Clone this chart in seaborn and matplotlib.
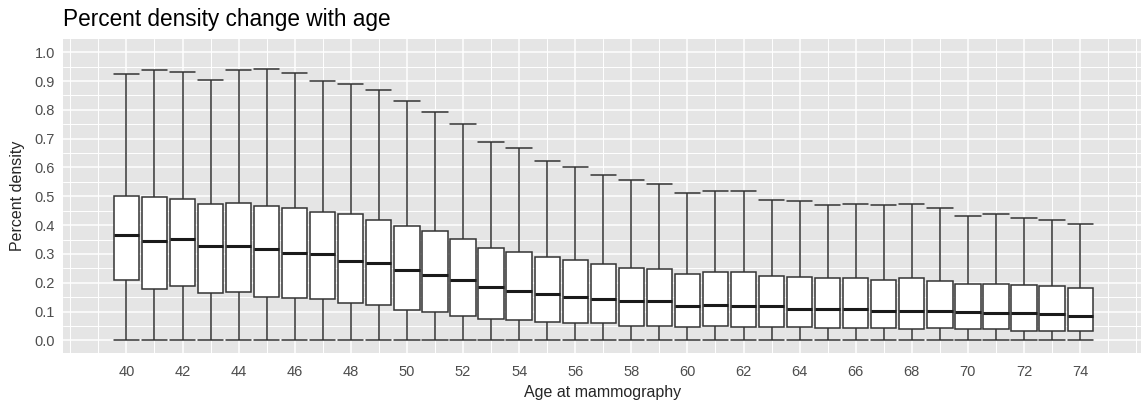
import numpy as np
import pandas as pd
import matplotlib.pyplot as plt
import seaborn as sns
from matplotlib.ticker import MultipleLocator, FormatStrFormatter

# box summaries (percent density by age)
ages = [40, 41, 42, 43, 44, 45, 46, 47, 48, 49, 50, 51, 52, 53, 54, 55, 56, 57,
        58, 59, 60, 61, 62, 63, 64, 65, 66, 67, 68, 69, 70, 71, 72, 73, 74]
whisker_low = [0.0, 0.0, 0.0, 0.0, 0.0, 0.0, 0.0, 0.0, 0.0, 0.0, 0.0, 0.0,
               0.0, 0.0, 0.0, 0.0, 0.0, 0.0, 0.0, 0.0, 0.0, 0.0, 0.0, 0.0,
               0.0, 0.0, 0.0, 0.0, 0.0, 0.0, 0.0, 0.0, 0.0, 0.0, 0.0]
q1 = [0.211, 0.179, 0.188, 0.165, 0.169, 0.152, 0.147, 0.142, 0.129, 0.121,
      0.105, 0.100, 0.083, 0.074, 0.069, 0.064, 0.060, 0.060, 0.051, 0.051,
      0.047, 0.051, 0.047, 0.047, 0.047, 0.042, 0.042, 0.042, 0.038, 0.042,
      0.038, 0.038, 0.033, 0.033, 0.033]
median = [0.366, 0.345, 0.353, 0.326, 0.326, 0.317, 0.304, 0.299, 0.277, 0.267,
          0.245, 0.226, 0.209, 0.186, 0.172, 0.162, 0.150, 0.144, 0.135, 0.135,
          0.119, 0.122, 0.119, 0.119, 0.108, 0.108, 0.108, 0.103, 0.103, 0.103,
          0.099, 0.094, 0.094, 0.090, 0.086]
q3 = [0.500, 0.496, 0.491, 0.473, 0.478, 0.468, 0.460, 0.446, 0.437, 0.418,
      0.396, 0.379, 0.351, 0.319, 0.305, 0.291, 0.278, 0.264, 0.251, 0.246,
      0.232, 0.237, 0.237, 0.224, 0.219, 0.215, 0.215, 0.210, 0.215, 0.205,
      0.196, 0.196, 0.192, 0.187, 0.182]
whisker_high = [0.924, 0.938, 0.932, 0.905, 0.938, 0.942, 0.928, 0.900, 0.891,
                0.869, 0.832, 0.792, 0.751, 0.688, 0.668, 0.624, 0.602, 0.574,
                0.556, 0.542, 0.511, 0.520, 0.520, 0.488, 0.483, 0.469, 0.475,
                0.469, 0.475, 0.460, 0.433, 0.438, 0.424, 0.419, 0.405]

# five points per age reproduce exactly these quartiles / whisker ends
rows = []
for i, a in enumerate(ages):
    for v in (whisker_low[i], q1[i], median[i], q3[i], whisker_high[i]):
        rows.append({"age": a, "pd": v})
df = pd.DataFrame(rows)

sns.set_theme(style="darkgrid")
plt.rcParams["font.family"] = ["Liberation Sans", "DejaVu Sans"]

W, H = 1144, 405
fig = plt.figure(figsize=(W / 100, H / 100), dpi=100)
left, right, top, bottom = 63.3, 1141, 39.3, 353.3
ax = fig.add_axes([left / W, 1 - bottom / H, (right - left) / W, (bottom - top) / H])

edge = "#333333"
sns.boxplot(data=df, x="age", y="pd", native_scale=True, width=0.9,
            whis=(0, 100), color="white", saturation=1, linecolor=edge,
            linewidth=1.1, showfliers=False, capwidths=0.9,
            medianprops={"linewidth": 2.2, "color": "#1a1a1a"},
            ax=ax)

ax.set_facecolor("#E5E5E5")
ax.set_xlim(37.75, 76.17)
ax.set_ylim(-0.045, 1.045)
ax.xaxis.set_major_locator(MultipleLocator(2))
ax.xaxis.set_minor_locator(MultipleLocator(1))
ax.yaxis.set_major_locator(MultipleLocator(0.1))
ax.yaxis.set_minor_locator(MultipleLocator(0.05))
ax.yaxis.set_major_formatter(FormatStrFormatter("%.1f"))
ax.set_xticks(range(40, 75, 2))
ax.grid(which="major", color="white", linewidth=1.1)
ax.grid(which="minor", color="white", linewidth=0.7)
ax.set_axisbelow(True)
for s in ax.spines.values():
    s.set_visible(False)

ax.tick_params(which="major", length=3.6, width=1, color=edge,
               labelsize=10.5, labelcolor="#4D4D4D")
ax.tick_params(axis="y", pad=2.5)
ax.tick_params(axis="x", pad=4.5)
ax.tick_params(which="minor", length=0)
ax.set_xlabel("")
ax.set_ylabel("")

fig.text(left / W, 1 - 26 / H, "Percent density change with age",
         fontsize=16.3, color="black", ha="left", va="baseline")
fig.text(18 / W, 1 - (top + bottom) / 2 / H, "Percent density",
         fontsize=11.5, rotation=90, ha="center", va="center")
fig.text((left + right) / 2 / W, 1 - 393 / H, "Age at mammography",
         fontsize=11.5, ha="center", va="center")

fig.savefig("out.png", dpi=100)
